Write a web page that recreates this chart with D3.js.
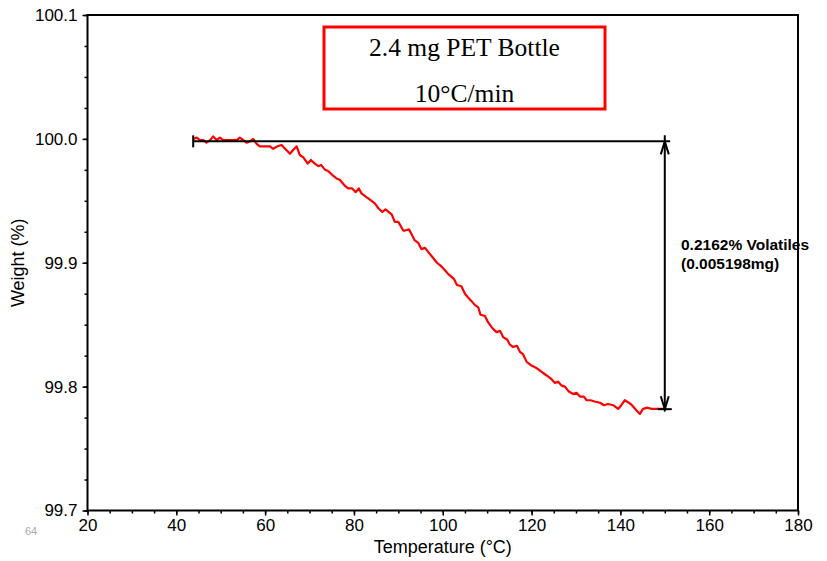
<!DOCTYPE html>
<html>
	<head>
		<script type="text/javascript" src="https://d3js.org/d3.v7.min.js"></script>
		<style>
			body { margin: 0; background: #fff; }
			text { font-family: "Liberation Sans", Arial, sans-serif; }
		</style>
	</head>
	<body>
		<svg id="viz"></svg>
	</body>
	<script type="text/javascript">
		// TGA trace
		var temps = [43.8,44.6,45.3,46.1,46.8,47.6,48.3,49.1,49.8,50.6,51.3,52.1,52.8,53.6,54.3,55.1,55.8,56.6,57.3,58.1,
			58.8,60.0,61.1,61.8,62.8,63.7,64.5,65.6,66.3,67.1,67.8,68.6,69.6,70.3,71.2,72.0,72.6,73.5,74.2,75.1,
			76.1,76.8,78.0,78.7,79.6,80.4,81.1,81.7,82.8,83.6,84.7,85.5,86.4,87.1,88.5,89.2,90.0,91.1,91.5,92.4,
			93.7,94.5,95.2,96.0,96.9,97.8,98.7,99.7,100.5,101.2,102.5,103.2,104.2,105.0,105.7,106.5,107.2,108.0,108.5,109.5,
			110.2,111.0,112.1,112.9,113.6,114.5,115.1,115.8,116.7,117.4,118.1,118.9,120.0,121.1,121.9,122.6,123.4,124.5,125.2,126.0,
			126.7,127.5,128.4,129.4,130.1,130.9,131.8,132.4,133.3,134.2,135.4,136.3,137.2,138.4,139.5,140.2,141.0,141.9,142.6,143.6,
			144.4,145.1,146.1,147.0,148.1,149.3,150.4]
		var weights = [100.000,100.001,99.999,99.999,99.997,99.999,100.002,99.999,100.001,99.999,99.999,99.999,99.999,99.999,100.001,99.999,99.997,99.998,100.000,99.996,
			99.994,99.994,99.994,99.992,99.994,99.995,99.992,99.988,99.991,99.994,99.987,99.985,99.980,99.983,99.980,99.978,99.979,99.975,99.974,99.971,
			99.968,99.967,99.962,99.960,99.960,99.957,99.960,99.956,99.953,99.951,99.948,99.944,99.941,99.943,99.939,99.933,99.933,99.926,99.926,99.927,
			99.918,99.916,99.911,99.912,99.908,99.904,99.900,99.897,99.894,99.891,99.887,99.882,99.881,99.875,99.872,99.869,99.866,99.864,99.858,99.857,
			99.852,99.848,99.844,99.845,99.840,99.838,99.834,99.832,99.833,99.828,99.826,99.820,99.817,99.815,99.813,99.811,99.809,99.806,99.803,99.804,
			99.801,99.800,99.796,99.794,99.795,99.792,99.792,99.789,99.789,99.788,99.787,99.785,99.786,99.785,99.782,99.785,99.789,99.787,99.785,99.781,
			99.778,99.782,99.783,99.782,99.782,99.782,99.782]

		var xTicks = [20,40,60,80,100,120,140,160,180]
		var yTicks = [99.7,99.8,99.9,100.0,100.1]
		var boxLines = ["2.4 mg PET Bottle", "10\u00B0C/min"]
		var stepStart = 43.8, stepEnd = 151.2, stepX = 150
		var stepTop = 99.998, stepLoss = 0.2162
		var stepLabel = ["0.2162% Volatiles", "(0.005198mg)"]

		var width = 827, height = 561
		var margin = {left: 87.5, top: 15, right: 29, bottom: 50.5}

		var svg = d3.select("#viz")
			.attr("width", width)
			.attr("height", height)

		var x = d3.scaleLinear().domain([20, 180]).range([margin.left, width - margin.right])
		var y = d3.scaleLinear().domain([99.7, 100.1]).range([height - margin.bottom, margin.top])

		//minor ticks first, then the major ones on top
		svg.append("g")
			.attr("transform", "translate(0," + y(99.7) + ")")
			.call(d3.axisBottom(x).tickValues(d3.range(20, 181, 5)).tickSize(3).tickFormat(""))
		svg.append("g")
			.attr("transform", "translate(" + x(20) + ",0)")
			.call(d3.axisLeft(y).tickValues(d3.range(0, 17).map(function (i) { return 99.7 + i * 0.025 })).tickSize(3).tickFormat(""))

		var xAxis = svg.append("g")
			.attr("transform", "translate(0," + y(99.7) + ")")
			.call(d3.axisBottom(x).tickValues(xTicks).tickSize(5).tickPadding(3).tickFormat(d3.format("d")))
		var yAxis = svg.append("g")
			.attr("transform", "translate(" + x(20) + ",0)")
			.call(d3.axisLeft(y).tickValues(yTicks).tickSize(5).tickPadding(5).tickFormat(d3.format(".1f")))

		svg.selectAll(".domain").remove()
		svg.selectAll(".tick line").attr("stroke", "#000").attr("stroke-width", 1.5)
		svg.selectAll(".tick text").attr("fill", "#000").style("font-size", "17px")
			.style("font-family", "'Liberation Sans', Arial, sans-serif")

		//frame
		svg.append("rect")
			.attr("x", x(20)).attr("y", y(100.1))
			.attr("width", x(180) - x(20)).attr("height", y(99.7) - y(100.1))
			.attr("fill", "none").attr("stroke", "#000").attr("stroke-width", 2)

		svg.append("text")
			.attr("x", (x(20) + x(180)) / 2).attr("y", 553)
			.attr("text-anchor", "middle").style("font-size", "18px")
			.text("Temperature (\u00B0C)")
		svg.append("text")
			.attr("transform", "translate(24," + y(99.9) + ") rotate(-90)")
			.attr("text-anchor", "middle").style("font-size", "18px")
			.text("Weight (%)")
		svg.append("text")
			.attr("x", 25).attr("y", 535)
			.attr("fill", "#aaa").style("font-size", "11px")
			.text("64")

		//curve
		var line = d3.line()
			.x(function (d, i) { return x(temps[i]) })
			.y(function (d) { return y(d) })
		svg.append("path")
			.datum(weights)
			.attr("d", line)
			.attr("fill", "none")
			.attr("stroke", "#ff0000")
			.attr("stroke-width", 2.2)
			.attr("stroke-linejoin", "round")

		//step annotation
		var yTop = y(stepTop), yBot = y(stepTop - stepLoss), ax = x(stepX)
		var ann = svg.append("g").attr("stroke", "#000").attr("fill", "none").attr("stroke-width", 2)
		ann.append("line").attr("x1", x(stepStart)).attr("x2", x(stepEnd)).attr("y1", yTop).attr("y2", yTop)
		ann.append("line").attr("x1", x(stepStart)).attr("x2", x(stepStart)).attr("y1", yTop - 6).attr("y2", yTop + 6)
		ann.append("line").attr("x1", ax - 7).attr("x2", ax + 7).attr("y1", yBot).attr("y2", yBot)
		ann.append("line").attr("x1", ax).attr("x2", ax).attr("y1", yTop - 6).attr("y2", yBot + 2)
		ann.append("path").attr("d", "M" + (ax - 4) + "," + (yTop + 13) + "L" + ax + "," + yTop + "L" + (ax + 4) + "," + (yTop + 13))
		ann.append("path").attr("d", "M" + (ax - 4) + "," + (yBot - 13) + "L" + ax + "," + yBot + "L" + (ax + 4) + "," + (yBot - 13))

		svg.selectAll(".steplabel")
			.data(stepLabel).enter()
			.append("text")
			.attr("x", 681)
			.attr("y", function (d, i) { return 250 + i * 19 })
			.style("font-size", "15.5px").style("font-weight", "bold")
			.text(function (d) { return d })

		//sample box
		svg.append("rect")
			.attr("x", 324).attr("y", 27).attr("width", 281).attr("height", 82)
			.attr("fill", "#fff").attr("stroke", "#ff0000").attr("stroke-width", 3)
		svg.selectAll(".boxtext")
			.data(boxLines).enter()
			.append("text")
			.attr("x", 464.5)
			.attr("y", function (d, i) { return 56 + i * 46 })
			.attr("text-anchor", "middle")
			.style("font-family", "'Liberation Serif', 'Times New Roman', serif")
			.style("font-size", "25.5px")
			.text(function (d) { return d })
	</script>
</html>
